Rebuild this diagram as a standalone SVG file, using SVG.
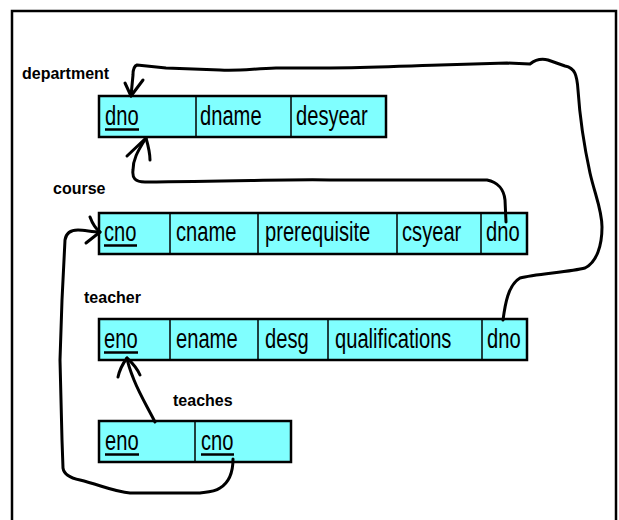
<svg xmlns="http://www.w3.org/2000/svg" width="619" height="520" viewBox="0 0 619 520">
<style>
.frame{fill:none;stroke:#000;stroke-width:2.5}
.tbl{fill:#80ffff;stroke:#000;stroke-width:2.5}
.div{stroke:#000;stroke-width:1.5}
.lbl{font-family:"Liberation Sans",Arial,sans-serif;font-size:16px;font-weight:bold;fill:#000}
.fld{font-family:"Liberation Sans",Arial,sans-serif;font-size:28px;fill:#000}
.ul{stroke:#000;stroke-width:2.5}
.conn{fill:none;stroke:#000;stroke-width:3;stroke-linecap:round;stroke-linejoin:round}
</style>
<rect width="619" height="520" fill="#fff"/>
<rect class="frame" x="12" y="11" width="604" height="530"/>

<g id="department">
<text class="lbl" x="22" y="79">department</text>
<rect class="tbl" x="99" y="96" width="287" height="41"/>
<line class="div" x1="196" y1="96" x2="196" y2="137"/>
<line class="div" x1="291" y1="96" x2="291" y2="137"/>
<text class="fld" transform="translate(105 125) scale(0.72 1)">dno</text>
<line class="ul" x1="105" y1="129.5" x2="139" y2="129.5"/>
<text class="fld" transform="translate(200 125) scale(0.72 1)">dname</text>
<text class="fld" transform="translate(296 125) scale(0.72 1)">desyear</text>
</g>

<g id="course">
<text class="lbl" x="53" y="194">course</text>
<rect class="tbl" x="99" y="213" width="428" height="41"/>
<line class="div" x1="170" y1="213" x2="170" y2="254"/>
<line class="div" x1="258" y1="213" x2="258" y2="254"/>
<line class="div" x1="397" y1="213" x2="397" y2="254"/>
<line class="div" x1="481" y1="213" x2="481" y2="254"/>
<text class="fld" transform="translate(104 241) scale(0.72 1)">cno</text>
<line class="ul" x1="104" y1="245.5" x2="137" y2="245.5"/>
<text class="fld" transform="translate(176 241) scale(0.72 1)">cname</text>
<text class="fld" transform="translate(265 241) scale(0.72 1)">prerequisite</text>
<text class="fld" transform="translate(402 241) scale(0.72 1)">csyear</text>
<text class="fld" transform="translate(486 241) scale(0.72 1)">dno</text>
</g>

<g id="teacher">
<text class="lbl" x="84" y="303">teacher</text>
<rect class="tbl" x="99" y="319" width="428" height="41"/>
<line class="div" x1="170" y1="319" x2="170" y2="360"/>
<line class="div" x1="258" y1="319" x2="258" y2="360"/>
<line class="div" x1="328" y1="319" x2="328" y2="360"/>
<line class="div" x1="482" y1="319" x2="482" y2="360"/>
<text class="fld" transform="translate(104 348) scale(0.72 1)">eno</text>
<line class="ul" x1="104" y1="352.5" x2="138" y2="352.5"/>
<text class="fld" transform="translate(176 348) scale(0.72 1)">ename</text>
<text class="fld" transform="translate(265 348) scale(0.72 1)">desg</text>
<text class="fld" transform="translate(335 348) scale(0.72 1)">qualifications</text>
<text class="fld" transform="translate(487 348) scale(0.72 1)">dno</text>
</g>

<g id="teaches">
<text class="lbl" x="173" y="406">teaches</text>
<rect class="tbl" x="99" y="421" width="192" height="41"/>
<line class="div" x1="195" y1="421" x2="195" y2="462"/>
<text class="fld" transform="translate(105 450) scale(0.72 1)">eno</text>
<line class="ul" x1="105" y1="454.5" x2="139" y2="454.5"/>
<text class="fld" transform="translate(201 450) scale(0.72 1)">cno</text>
<line class="ul" x1="201" y1="454.5" x2="234" y2="454.5"/>
</g>

<g id="connectors">
<path class="conn" d="M506,222 L505,200 C504,190 498,182 487,180 L330,180 C300,179 250,181 145,182 C135,182 132,178 133,170 C133,160 137,152 146,138"/>
<path class="conn" d="M127,156 L146,138 C148,145 150,152 150,160"/>
<path class="conn" d="M503,320 C505,305 508,285 520,278 C535,274 570,272 585,268 C597,262 602,245 602,227 C602,210 595,195 590,173 C585,150 580,120 578,90 C577,75 575,68 565,66 L548,60 C540,58 535,60 530,64 L507,63 L440,65 C400,66 370,68 330,68 L276,68 C250,69 240,71 220,70 L166,68 L137,65 C134,66 133,70 133,75 L131,96"/>
<path class="conn" d="M125,83 L131,96 L143,80"/>
<path class="conn" d="M155,422 C148,408 140,395 134,380 C130,370 128,365 127,358"/>
<path class="conn" d="M118,377 C120,368 124,362 127,358 C131,362 136,366 140,375"/>
<path class="conn" d="M233,459 C233,470 230,482 220,488 C214,492 208,492 200,493 L130,493 C115,492 100,485 80,480 C70,478 64,475 63,468 L62,440 L60,360 L62,300 L65,240 C66,233 70,230 78,230 C85,230 92,232 100,232"/>
<path class="conn" d="M90,217 C93,225 96,229 100,232 L86,243"/>
</g>
</svg>
